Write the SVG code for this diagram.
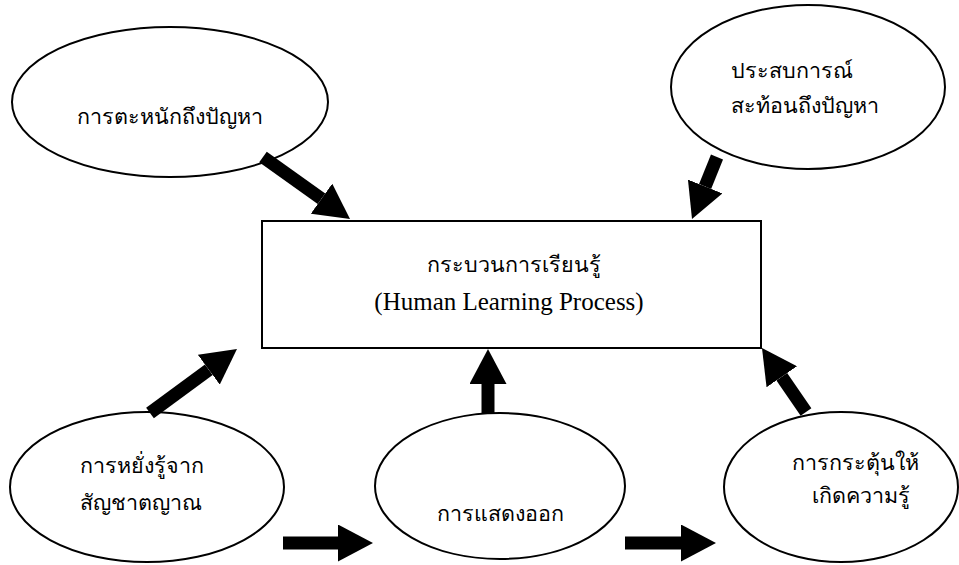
<svg xmlns="http://www.w3.org/2000/svg" width="959" height="565" viewBox="0 0 959 565">
<style>
.node{fill:#fff;stroke:#000;stroke-width:2}
.th{font-family:"Liberation Serif","DejaVu Serif",serif;font-size:21.5px;fill:#000}
.en{font-family:"Liberation Serif",serif;font-size:25px;fill:#000}
.arr{stroke:#000;stroke-width:13;stroke-linecap:butt;marker-end:url(#head)}
</style>
<defs>
<marker id="head" markerUnits="userSpaceOnUse" viewBox="0 0 35 37" markerWidth="35" markerHeight="37" refX="0" refY="18.5" orient="auto">
<path d="M0,0 L35,18.5 L0,37 z" fill="#000"/>
</marker>
</defs>
<rect width="959" height="565" fill="#fff"/>
<g id="n-awareness">
<ellipse class="node" cx="170" cy="102" rx="158" ry="75"/>
<text class="th" x="77" y="124">การตะหนักถึงปัญหา</text>
</g>
<g id="n-experience">
<ellipse class="node" cx="808" cy="87" rx="137" ry="82"/>
<text class="th" x="731" y="78">ประสบการณ์</text>
<text class="th" x="731" y="113">สะท้อนถึงปัญหา</text>
</g>
<g id="n-process">
<rect class="node" x="262" y="221" width="499" height="127"/>
<text class="th" x="514" y="272" text-anchor="middle">กระบวนการเรียนรู้</text>
<text class="en" x="509" y="310" text-anchor="middle">(Human Learning Process)</text>
</g>
<g id="n-intuition">
<ellipse class="node" cx="147" cy="487" rx="137" ry="75"/>
<text class="th" x="80" y="473">การหยั่งรู้จาก</text>
<text class="th" x="80" y="510">สัญชาตญาณ</text>
</g>
<g id="n-expression">
<ellipse class="node" cx="500" cy="486" rx="125" ry="73"/>
<text class="th" x="500" y="521" text-anchor="middle">การแสดงออก</text>
</g>
<g id="n-stimulate">
<ellipse class="node" cx="841" cy="487" rx="117" ry="75"/>
<text class="th" x="792" y="470">การกระตุ้นให้</text>
<text class="th" x="812" y="503">เกิดความรู้</text>
</g>
<g id="connectors">
<line class="arr" x1="263" y1="157" x2="321.5" y2="198.7"/>
<line class="arr" x1="717" y1="157" x2="705.1" y2="186.5"/>
<line class="arr" x1="150" y1="413" x2="208.8" y2="369.7"/>
<line class="arr" x1="488" y1="413" x2="488" y2="384"/>
<line class="arr" x1="806" y1="412" x2="781.8" y2="376.8"/>
<line class="arr" x1="283" y1="543" x2="338" y2="543"/>
<line class="arr" x1="625" y1="543" x2="681" y2="543"/>
</g>
</svg>
